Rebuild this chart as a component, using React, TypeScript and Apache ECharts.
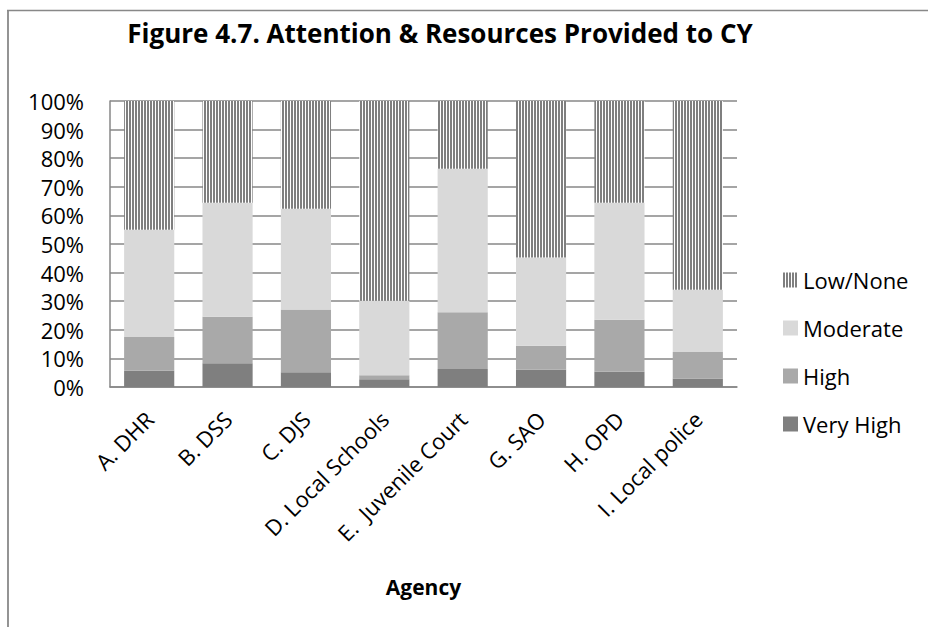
import React, { useEffect, useRef } from "react";
import * as echarts from "echarts";

const categories = [
  "A. DHR",
  "B. DSS",
  "C. DJS",
  "D. Local Schools",
  "E.  Juvenile Court",
  "G. SAO",
  "H. OPD",
  "I. Local police",
];
const veryHigh = [5.7, 8.3, 5.2, 2.7, 6.3, 6.0, 5.3, 3.0];
const high = [11.8, 16.3, 21.9, 1.4, 19.8, 8.4, 18.2, 9.2];
const moderate = [37.5, 39.8, 35.2, 26.1, 50.2, 30.9, 40.9, 21.8];
const lowNone = [45.0, 35.6, 37.7, 69.8, 23.7, 54.7, 35.6, 66.0];
const seriesNames = ["Very High", "High", "Moderate", "Low/None"];
const titleText = "Figure 4.7. Attention & Resources Provided to CY";
const axisName = "Agency";

const FONT = "'Open Sans', sans-serif";
const GRID_COLOR = "#878787";

export default function App() {
  const ref = useRef<HTMLDivElement>(null);

  useEffect(() => {
    document.body.style.margin = "0";
    if (!ref.current) return;
    const chart = echarts.init(ref.current, undefined, { renderer: "svg" });

    const cv = document.createElement("canvas");
    cv.width = 3;
    cv.height = 3;
    const ctx = cv.getContext("2d")!;
    ctx.fillStyle = "#ffffff";
    ctx.fillRect(0, 0, 3, 3);
    ctx.fillStyle = "#7f7f7f";
    ctx.fillRect(0, 0, 2, 3);
    const hatch: any = { image: cv, repeat: "repeat", imageWidth: 3, imageHeight: 3 };

    const colors = ["#7f7f7f", "#a9a9a9", "#d9d9d9", hatch];
    const values = [veryHigh, high, moderate, lowNone];

    chart.setOption({
      animation: false,
      backgroundColor: "#ffffff",
      title: {
        text: titleText,
        left: 440,
        top: 20,
        padding: 0,
        textAlign: "center",
        textStyle: { fontFamily: FONT, fontWeight: "bold", fontSize: 26, color: "#000" },
      },
      legend: {
        orient: "vertical",
        left: 778,
        top: 262,
        itemWidth: 15,
        itemHeight: 15,
        itemGap: 22,
        icon: "rect",
        data: ["Low/None", "Moderate", "High", "Very High"],
        textStyle: { fontFamily: FONT, fontSize: 22, color: "#000", lineHeight: 26 },
      },
      grid: { left: 110, top: 101, width: 627, height: 286 },
      xAxis: {
        type: "category",
        data: categories,
        axisLine: { show: true, lineStyle: { color: GRID_COLOR, width: 1.5 } },
        axisTick: { show: false },
        axisLabel: {
          show: true,
          rotate: 45,
          margin: 28,
          interval: 0,
          fontFamily: FONT,
          fontSize: 22,
          color: "#000",
        },
        name: axisName,
        nameLocation: "middle",
        nameGap: 189,
        nameTextStyle: { fontFamily: FONT, fontWeight: "bold", fontSize: 21, color: "#000" },
      },
      yAxis: {
        type: "value",
        min: 0,
        max: 100,
        interval: 10,
        axisLine: { show: true, lineStyle: { color: GRID_COLOR, width: 1.5 } },
        axisTick: { show: false },
        splitLine: { show: true, lineStyle: { color: GRID_COLOR, width: 1.5 } },
        axisLabel: {
          formatter: "{value}%",
          margin: 26,
          fontFamily: FONT,
          fontSize: 22,
          color: "#000",
        },
      },
      series: seriesNames.map((name, i) => ({
        name,
        type: "bar",
        stack: "total",
        barCategoryGap: "36%",
        data: values[i],
        itemStyle: { color: colors[i] },
        emphasis: { disabled: true },
      })),
      graphic: [
        {
          type: "line",
          shape: { x1: 7, y1: 10.5, x2: 928, y2: 10.5 },
          style: { stroke: "#888888", lineWidth: 1.5 },
          silent: true,
        },
        {
          type: "line",
          shape: { x1: 8, y1: 10, x2: 8, y2: 627 },
          style: { stroke: "#888888", lineWidth: 1.8 },
          silent: true,
        },
      ],
    });

    return () => chart.dispose();
  }, []);

  return <div ref={ref} style={{ width: 928, height: 627 }} />;
}
